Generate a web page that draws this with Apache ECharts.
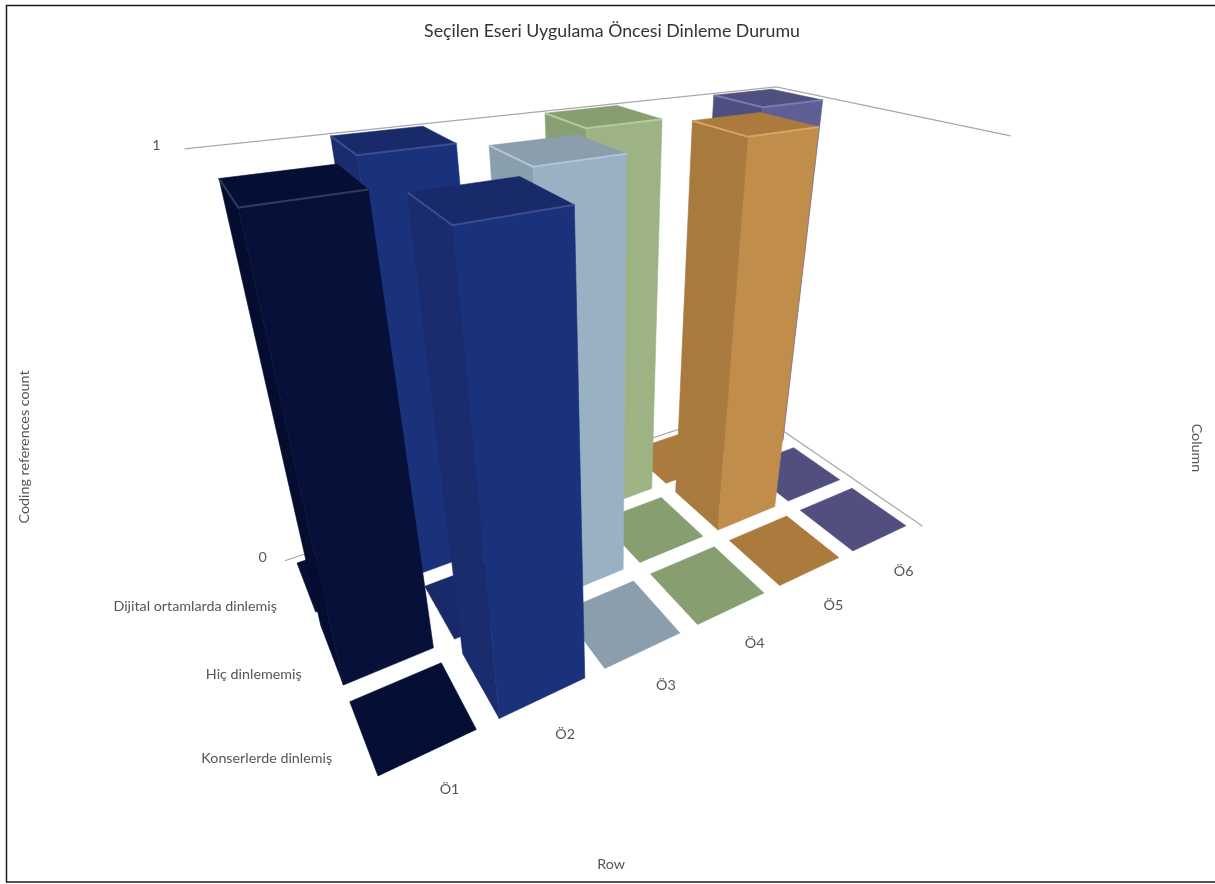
<!DOCTYPE html>
<html>
<head>
<meta charset="utf-8">
<style>html,body{margin:0;padding:0;background:#fff}#c{width:1215px;height:884px}</style>
<script src="https://cdn.jsdelivr.net/npm/echarts@6/dist/echarts.min.js"></script>
</head>
<body>
<div id="c"></div>
<script>
const chartTitle = 'Seçilen Eseri Uygulama Öncesi Dinleme Durumu';
const columns = ['Ö1', 'Ö2', 'Ö3', 'Ö4', 'Ö5', 'Ö6'];
const rows = ['Konserlerde dinlemiş', 'Hiç dinlememiş', 'Dijital ortamlarda dinlemiş'];
const valuesKonser = [0, 1, 0, 0, 0, 0];
const valuesHic = [1, 0, 1, 0, 1, 0];
const valuesDijital = [0, 1, 0, 1, 0, 1];
const zTicks = [0, 1];
const frontColors = ['#061038', '#1a317c', '#9ab1c3', '#9db384', '#c18d4b', '#5f5e96'];
const sideColors = ['#040d30', '#1a2b6e', '#8a9fae', '#87a071', '#a87a3e', '#4f4e80'];
const topColors = ['#050e35', '#182a6a', '#8a9ead', '#869e70', '#ab7b3d', '#504f80'];
const edgeColors = ['#2f3a60', '#3b4f90', '#b0c5d5', '#b4c99f', '#d9a566', '#7b7ab0'];

// Camera: vanishing points of the three axes and their perspective weights.
const CAM = { o: [378, 776], vx: [2131, -55], vy: [59, -63], vz: [612, 1905], a: 0.0743, b: 0.1215, c: -0.3155 };
function project(x, y, z) {
  const ax = CAM.a * x, by = CAM.b * y, cz = CAM.c * z;
  const w = 1 + ax + by + cz;
  return [
    (CAM.o[0] + ax * CAM.vx[0] + by * CAM.vy[0] + cz * CAM.vz[0]) / w,
    (CAM.o[1] + ax * CAM.vx[1] + by * CAM.vy[1] + cz * CAM.vz[1]) / w
  ];
}

const chart = echarts.init(document.getElementById('c'), null, { renderer: 'canvas' });

// Hidden axes carry the scales: 100 px per category and 100 px per unit of value.
const GRID_W = 100 * columns.length, GRID_H = 100 * rows.length, Z_H = 100;
const HALF = 0.4;
const LABEL_FONT = '14.3px Lato';
function modelOf(api) {
  const p = api.coord([api.value(0), api.value(1)]);
  return { x: p[0] / 100 - 0.1, y: (GRID_H - p[1]) / 100 - 0.1 };
}
function heightOf(v) {
  return (Z_H - chart.convertToPixel({ yAxisIndex: 1 }, v)) / Z_H;
}

const barData = [];
const rowValues = [valuesKonser, valuesHic, valuesDijital];
for (let r = rows.length - 1; r >= 0; r--) {
  for (let c = columns.length - 1; c >= 0; c--) {
    barData.push([c, r, rowValues[r][c]]);
  }
}

function poly(points, fill) {
  return { type: 'polygon', shape: { points }, style: { fill, stroke: fill, lineWidth: 0.6 } };
}

function renderBar(params, api) {
  const m = modelOf(api);
  const ci = api.value(0);
  const h = heightOf(api.value(2));
  const x0 = m.x - HALF, x1 = m.x + HALF, y0 = m.y - HALF, y1 = m.y + HALF;
  if (h <= 0) {
    return poly([project(x0, y0, 0), project(x1, y0, 0), project(x1, y1, 0), project(x0, y1, 0)], topColors[ci]);
  }
  const children = [
    poly([project(x0, y1, 0), project(x0, y0, 0), project(x0, y0, h), project(x0, y1, h)], sideColors[ci]),
    poly([project(x0, y0, 0), project(x1, y0, 0), project(x1, y0, h), project(x0, y0, h)], frontColors[ci]),
    poly([project(x0, y0, h), project(x1, y0, h), project(x1, y1, h), project(x0, y1, h)], topColors[ci]),
    { type: 'polyline', shape: { points: [project(x0, y1, h), project(x0, y0, h), project(x1, y0, h)] },
      style: { fill: null, stroke: edgeColors[ci], lineWidth: 2 } }
  ];
  return { type: 'group', children };
}

function renderFrame(params, api) {
  const v = api.value(0);
  const h = heightOf(v);
  const xA = -0.1, xB = columns.length - 0.05, yA = -0.1, yB = rows.length - 0.1;
  const end = project(xA, yB, h);
  return {
    type: 'group',
    children: [
      { type: 'polyline', shape: { points: [end, project(xB, yB, h), project(xB, yA, h)] },
        style: { fill: null, stroke: '#a8a8a8', lineWidth: 1.2 } },
      { type: 'text', x: end[0] - 22 - 6 * v, y: end[1] - 3,
        style: { text: String(v), fill: '#555', font: LABEL_FONT, align: 'center', verticalAlign: 'middle' } }
    ]
  };
}

function renderColLabel(params, api) {
  const m = modelOf(api);
  const p = project(m.x, -0.1, 0);
  return { type: 'text', x: p[0] + 16.5, y: p[1] + 28, style: { text: columns[api.value(0)], fill: '#555', font: LABEL_FONT, align: 'center', verticalAlign: 'middle' } };
}
function renderRowLabel(params, api) {
  const m = modelOf(api);
  const p = project(-0.1, m.y, 0);
  return { type: 'text', x: p[0] - 18.5, y: p[1] + 16, style: { text: rows[api.value(1)], fill: '#555', font: LABEL_FONT, align: 'right', verticalAlign: 'middle' } };
}

const axisName = (text, x, y, rotation) => ({
  type: 'text', x, y, rotation,
  style: { text, fill: '#555', font: LABEL_FONT, align: 'center', verticalAlign: 'middle' }
});

chart.setOption({
  animation: false,
  backgroundColor: '#fff',
  title: {
    text: chartTitle, left: 607, top: 17, textAlign: 'center',
    textStyle: { fontFamily: 'Lato', fontSize: 17.75, fontWeight: 'normal', color: '#333' }
  },
  grid: [
    { left: 0, top: 0, width: GRID_W, height: GRID_H, show: false },
    { left: 0, top: 0, width: GRID_W, height: Z_H, show: false }
  ],
  xAxis: [
    { type: 'category', data: columns, show: false, gridIndex: 0 },
    { type: 'category', data: columns, show: false, gridIndex: 1 }
  ],
  yAxis: [
    { type: 'category', data: rows, show: false, gridIndex: 0 },
    { type: 'value', min: zTicks[0], max: zTicks[1], show: false, gridIndex: 1 }
  ],
  graphic: [
    { type: 'polyline', shape: { points: [[1215, 5.5], [6.5, 5.5], [6.5, 882], [1215, 882]] }, style: { fill: null, stroke: '#1c1c1c', lineWidth: 1.5 } },
    axisName('Coding references count', 24, 447, Math.PI / 2),
    axisName('Column', 1197, 448, -Math.PI / 2),
    axisName('Row', 611, 864, 0)
  ],
  series: [
    { type: 'custom', coordinateSystem: 'none', silent: true, data: zTicks.map(z => [z]), renderItem: renderFrame, clip: false },
    { type: 'custom', xAxisIndex: 0, yAxisIndex: 0, silent: true, encode: { x: 0, y: 1 }, data: barData, renderItem: renderBar, clip: false },
    { type: 'custom', xAxisIndex: 0, yAxisIndex: 0, silent: true, encode: { x: 0, y: 1 }, data: columns.map((c, i) => [i, 0]), renderItem: renderColLabel, clip: false },
    { type: 'custom', xAxisIndex: 0, yAxisIndex: 0, silent: true, encode: { x: 0, y: 1 }, data: rows.map((r, i) => [0, i]), renderItem: renderRowLabel, clip: false }
  ]
});
</script>
</body>
</html>
